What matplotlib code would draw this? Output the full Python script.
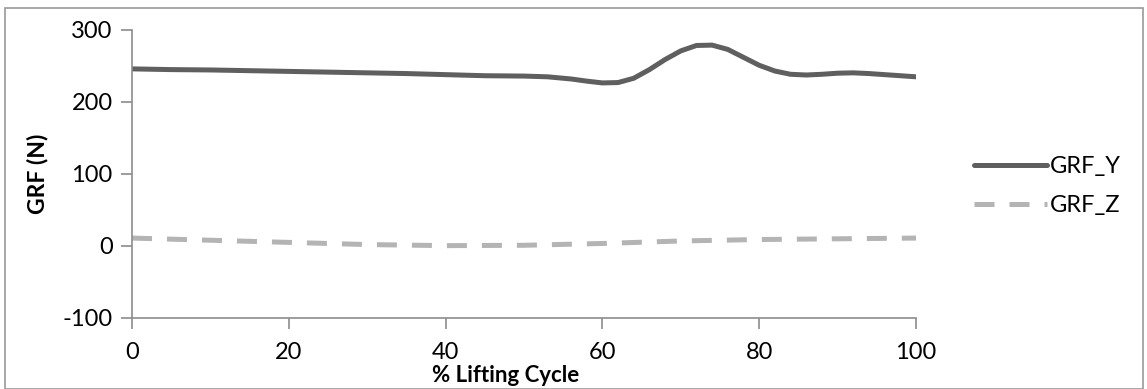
import matplotlib.pyplot as plt
from matplotlib.patches import Rectangle

plt.rcParams['font.family'] = ['Lato', 'DejaVu Sans']
plt.rcParams['axes.unicode_minus'] = False

cycle_y = [0, 5, 10, 15, 20, 25, 30, 35, 40, 45, 50, 53, 56, 58, 60, 62, 64, 66, 68,
           70, 72, 74, 76, 78, 80, 82, 84, 86, 88, 90, 92, 94, 96, 98, 100]
grf_y = [246, 245, 244.5, 243.5, 242.5, 241.5, 240.5, 239.5, 238, 236.5, 236, 235, 232,
         229, 226.5, 227, 233, 245, 259, 271, 278.5, 279, 273, 262, 251, 243, 238.5,
         237.5, 238.5, 240, 240.5, 239.5, 238, 236.5, 235]

cycle_z = [0, 10, 20, 30, 40, 50, 60, 70, 80, 90, 100]
grf_z = [11, 8, 5, 2, 0.5, 1, 3.5, 7, 9, 10, 11]


def main():
    fig = plt.figure(figsize=(11.47, 3.89), dpi=100)
    ax = fig.add_axes([132 / 1147, 71 / 389, 784 / 1147, 288 / 389])
    plot_data(ax)
    set_properties(ax)
    fig.patches.append(Rectangle((5 / 1147, 0.0), 1138 / 1147, 381 / 389,
                                 transform=fig.transFigure, fill=False,
                                 edgecolor="#9a9a9a", linewidth=1.2))
    fig.legend(loc="center left", bbox_to_anchor=(953 / 1147, 1 - 186 / 389),
               frameon=False, fontsize=17, handlelength=3.1, handletextpad=0.12,
               labelspacing=0.75)
    fig.savefig("out.png", dpi=100)


def plot_data(ax):
    ax.plot(cycle_y, grf_y, color="#5f5f5f", linewidth=3.6, label="GRF_Y",
            solid_capstyle="round")
    ax.plot(cycle_z, grf_z, color="#b4b4b4", linewidth=3.6, label="GRF_Z",
            dashes=(4, 3))


def set_properties(ax):
    ax.set_xlim(0, 100)
    ax.set_ylim(-100, 300)
    ax.set_xticks(range(0, 101, 20))
    ax.set_yticks(range(-100, 301, 100))
    for side in ("top", "right"):
        ax.spines[side].set_visible(False)
    for side in ("left", "bottom"):
        ax.spines[side].set_color("#8c8c8c")
        ax.spines[side].set_linewidth(1.2)
    ax.tick_params(axis="both", direction="out", length=8, width=1.2,
                   color="#8c8c8c", labelsize=17)
    ax.tick_params(axis="x", pad=9)
    ax.tick_params(axis="y", pad=6)
    ax.set_xlabel("% Lifting Cycle", fontsize=16, fontweight="bold")
    ax.xaxis.set_label_coords(0.476, -0.162)
    ax.set_ylabel("GRF (N)", fontsize=16.5, fontweight="bold", labelpad=10)


if __name__ == "__main__":
    main()
